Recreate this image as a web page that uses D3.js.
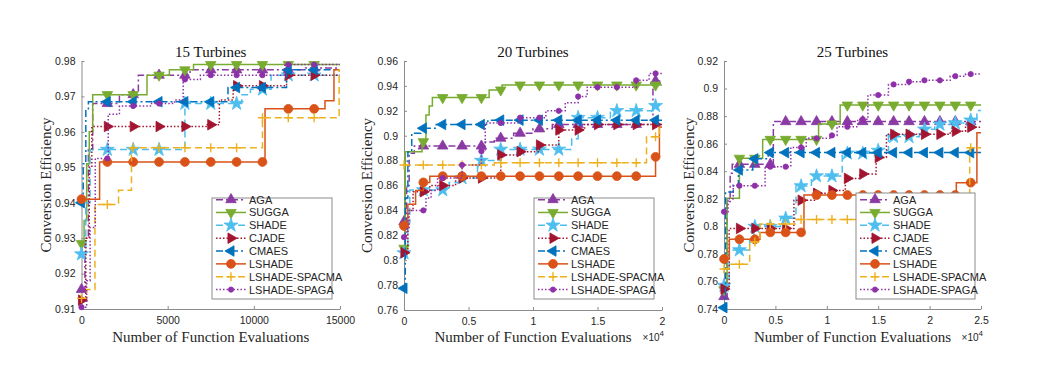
<!DOCTYPE html>
<html>
<head>
<meta charset="utf-8">
<script src="https://cdn.jsdelivr.net/npm/d3@7"></script>
<style>
body { margin: 0; background: #fff; }
</style>
</head>
<body>
<div id="chart"></div>
<script>
// ---- data: best-so-far conversion efficiency, [evaluations, value] step points ----
let names = ["AGA", "SUGGA", "SHADE", "CJADE", "CMAES", "LSHADE", "LSHADE-SPACMA", "LSHADE-SPAGA"];

// 15 turbines
let aga15 = [[0,0.9155],[200,0.93],[400,0.955],[650,0.968],[2200,0.9705],[3300,0.976],[6300,0.9775],[13000,0.978],[15000,0.978]];
let sugga15 = [[0,0.9285],[150,0.935],[300,0.951],[450,0.96],[650,0.9705],[3800,0.976],[5100,0.9775],[6500,0.979],[15000,0.979]];
let shade15 = [[0,0.9255],[250,0.94],[500,0.955],[6000,0.968],[9300,0.9705],[9800,0.972],[11000,0.976],[15000,0.9765]];
let cjade15 = [[0,0.9125],[250,0.93],[450,0.95],[600,0.9615],[7300,0.962],[8000,0.969],[8800,0.973],[11900,0.976],[15000,0.976]];
let cmaes15 = [[0,0.94],[100,0.951],[250,0.9665],[400,0.9685],[8500,0.9725],[11900,0.9775],[15000,0.9775]];
let lshade15 = [[0,0.941],[1050,0.9515],[10650,0.9665],[14130,0.9688],[14650,0.9775],[15000,0.9775]];
let spacma15 = [[0,0.913],[300,0.9155],[780,0.9395],[2150,0.9435],[2900,0.9555],[10500,0.964],[14950,0.9775],[15000,0.9775]];
let spaga15 = [[0,0.9105],[300,0.918],[500,0.933],[800,0.9525],[1550,0.965],[2200,0.9673],[4000,0.968],[5400,0.969],[5900,0.9748],[6900,0.976],[11800,0.979],[15000,0.979]];

// 20 turbines
let aga20 = [[0,0.831],[200,0.86],[400,0.886],[800,0.8917],[6200,0.895],[7000,0.898],[8500,0.902],[10000,0.9055],[11500,0.909],[19300,0.944],[20000,0.944]];
let sugga20 = [[0,0.8096],[100,0.8871],[1400,0.8952],[1700,0.9166],[1950,0.9239],[2200,0.9306],[6600,0.9367],[7600,0.9407],[20000,0.9407]];
let shade20 = [[0,0.8058],[300,0.83],[450,0.8564],[3500,0.8625],[4500,0.866],[5700,0.875],[6000,0.88],[7500,0.889],[13000,0.8975],[13500,0.9145],[16000,0.92],[19500,0.924],[20000,0.924]];
let cjade20 = [[0,0.806],[300,0.84],[700,0.855],[2000,0.86],[4000,0.866],[7500,0.8845],[9000,0.8872],[10500,0.8925],[12000,0.9046],[14000,0.909],[20000,0.909]];
let cmaes20 = [[0,0.7774],[100,0.85],[300,0.887],[600,0.902],[1300,0.906],[2500,0.909],[6500,0.9125],[20000,0.9125]];
let lshade20 = [[0,0.8275],[300,0.845],[900,0.856],[1500,0.8625],[2000,0.8675],[19300,0.8675],[19500,0.883],[19800,0.907],[20000,0.907]];
let spacma20 = [[0,0.8765],[7000,0.8783],[18800,0.8992],[19800,0.908],[20000,0.908]];
let spaga20 = [[0,0.8185],[200,0.825],[400,0.84],[1700,0.85],[2100,0.856],[2600,0.866],[4500,0.8765],[6000,0.8875],[6300,0.9102],[9000,0.9145],[11000,0.92],[12500,0.9265],[13500,0.9315],[14200,0.939],[18000,0.9445],[19000,0.95],[20000,0.95]];

// 25 turbines
let aga25 = [[0,0.749],[300,0.818],[600,0.8385],[800,0.845],[4800,0.876],[25000,0.876]];
let sugga25 = [[0,0.754],[300,0.8203],[1500,0.8494],[3760,0.8631],[9200,0.8743],[11300,0.888],[25000,0.888]];
let shade25 = [[0,0.757],[500,0.7828],[2500,0.79],[2900,0.7998],[5500,0.8058],[7000,0.8293],[8500,0.8365],[11500,0.853],[14500,0.855],[16000,0.865],[19000,0.8704],[20500,0.874],[22000,0.875],[24000,0.877],[24600,0.884],[25000,0.884]];
let cjade25 = [[0,0.7545],[500,0.7985],[6800,0.819],[8800,0.824],[10300,0.826],[11800,0.8348],[13200,0.838],[14800,0.85],[15800,0.8668],[22000,0.869],[23500,0.872],[25000,0.872]];
let cmaes25 = [[0,0.741],[150,0.825],[900,0.83],[1400,0.8409],[2800,0.849],[4300,0.8535],[25000,0.8535]];
let lshade25 = [[0,0.7763],[520,0.7906],[3500,0.7956],[7780,0.8227],[22600,0.8317],[24600,0.868],[25000,0.868]];
let spacma25 = [[0,0.769],[500,0.7725],[2500,0.7886],[3500,0.8017],[6900,0.805],[23900,0.857],[25000,0.857]];
let spaga25 = [[0,0.8106],[400,0.82],[900,0.8295],[4000,0.8433],[6500,0.8573],[8000,0.8639],[10500,0.866],[11000,0.8723],[13000,0.8777],[14000,0.8953],[16000,0.903],[18000,0.905],[19500,0.906],[22000,0.909],[23500,0.9105],[25000,0.9105]];

let yTicks15 = [0.91, 0.92, 0.93, 0.94, 0.95, 0.96, 0.97, 0.98];
let yTicks20 = [0.76, 0.78, 0.8, 0.82, 0.84, 0.86, 0.88, 0.9, 0.92, 0.94, 0.96];
let yTicks25 = [0.74, 0.76, 0.78, 0.8, 0.82, 0.84, 0.86, 0.88, 0.9, 0.92];
let xTicks15 = [0, 5000, 10000, 15000];
let xTicks20 = [0, 5000, 10000, 15000, 20000];
let xTicks25 = [0, 5000, 10000, 15000, 20000, 25000];

// ---- styles ----
let styles = [
	{color: "#8a3aa3", dash: "7,3,2,3", marker: "up"},
	{color: "#77ac30", dash: null, marker: "down"},
	{color: "#4dbeee", dash: "7,4", marker: "star"},
	{color: "#a2142f", dash: "1.5,2", marker: "right"},
	{color: "#0072bd", dash: "7,3,2,3", marker: "left"},
	{color: "#d95319", dash: null, marker: "circle"},
	{color: "#edb120", dash: "7,4", marker: "plus"},
	{color: "#8e30a8", dash: "1.5,2", marker: "dot"}
];

let panels = [
	{title: "15 Turbines", series: [aga15, sugga15, shade15, cjade15, cmaes15, lshade15, spacma15, spaga15],
	 xMax: 15000, yDomain: [0.91, 0.98], yTicks: yTicks15, xTicks: xTicks15, sci: false,
	 left: 81.5, right: 340, top: 61, bottom: 309, legend: [212, 198, 120, 101], ylabX: 51},
	{title: "20 Turbines", series: [aga20, sugga20, shade20, cjade20, cmaes20, lshade20, spacma20, spaga20],
	 xMax: 20000, yDomain: [0.76, 0.96], yTicks: yTicks20, xTicks: xTicks20, sci: true,
	 left: 404, right: 662, top: 61, bottom: 310, legend: [534, 198, 120, 101], ylabX: 372},
	{title: "25 Turbines", series: [aga25, sugga25, shade25, cjade25, cmaes25, lshade25, spacma25, spaga25],
	 xMax: 25000, yDomain: [0.74, 0.92], yTicks: yTicks25, xTicks: xTicks25, sci: true,
	 left: 724, right: 981, top: 61, bottom: 309, legend: [856, 193, 119, 106], ylabX: 694}
];

let width = 1047;
let height = 381;
let markerStep = 1500;

let svg = d3.select("#chart").append("svg")
	.attr("width", width)
	.attr("height", height)
	.style("font-family", "'Liberation Sans', Arial, sans-serif");

function markerPath(type) {
	if (type == "plus") return "M-4.5,0H4.5M0,-4.5V4.5";
	let sym = {up: d3.symbolTriangle, down: d3.symbolTriangle, right: d3.symbolTriangle, left: d3.symbolTriangle,
		star: d3.symbolStar, circle: d3.symbolCircle, dot: d3.symbolCircle}[type];
	let size = {up: 48, down: 48, right: 48, left: 48, star: 60, circle: 62, dot: 22}[type];
	return d3.symbol().type(sym).size(size)();
}
function markerRotate(type) {
	return {down: 180, right: 90, left: -90}[type] || 0;
}
function drawMarker(g, x, y, st) {
	let m = g.append("path")
		.attr("d", markerPath(st.marker))
		.attr("transform", `translate(${x},${y}) rotate(${markerRotate(st.marker)})`);
	if (st.marker == "plus") {
		m.attr("fill", "none").attr("stroke", st.color).attr("stroke-width", 1.4);
	} else {
		m.attr("fill", st.color).attr("stroke", st.color).attr("stroke-width", 0.8);
	}
}

function valueAt(data, x) {
	let i = d3.bisector(d => d[0]).right(data, x) - 1;
	return data[Math.max(0, i)][1];
}

panels.forEach(p => {
	let g = svg.append("g");
	let xScale = d3.scaleLinear().domain([0, p.xMax]).range([p.left, p.right]);
	let yScale = d3.scaleLinear().domain(p.yDomain).range([p.bottom, p.top]);

	let xAxis = d3.axisBottom(xScale)
		.tickValues(p.xTicks)
		.tickSizeInner(-3)
		.tickSizeOuter(0)
		.tickPadding(8)
		.tickFormat(d => p.sci ? d3.format("~g")(d / 10000) : d);
	let yAxis = d3.axisLeft(yScale)
		.tickValues(p.yTicks)
		.tickSizeInner(-3)
		.tickSizeOuter(0)
		.tickPadding(6)
		.tickFormat(d3.format("~g"));

	let gx = g.append("g").attr("transform", `translate(0,${p.bottom})`).call(xAxis);
	let gy = g.append("g").attr("transform", `translate(${p.left},0)`).call(yAxis);
	[gx, gy].forEach(a => {
		a.select(".domain").attr("stroke", "#8c8c8c");
		a.selectAll(".tick line").attr("stroke", "#8c8c8c");
		a.selectAll(".tick text").attr("fill", "#262626").style("font-size", "10.5px")
			.style("font-family", "'Liberation Sans', Arial, sans-serif");
	});

	let line = d3.line()
		.x(d => xScale(d[0]))
		.y(d => yScale(d[1]))
		.curve(d3.curveStepAfter);

	p.series.forEach((data, k) => {
		let st = styles[k];
		g.append("path")
			.datum(data)
			.attr("d", line)
			.attr("fill", "none")
			.attr("stroke", st.color)
			.attr("stroke-width", 1.5)
			.attr("stroke-dasharray", st.dash);
		let mg = g.append("g");
		for (let x = 0; x < p.xMax; x += markerStep) {
			drawMarker(mg, xScale(x), yScale(valueAt(data, x)), st);
		}
	});

	// title and labels
	g.append("text")
		.text(p.title)
		.attr("x", (p.left + p.right) / 2)
		.attr("y", 57)
		.attr("text-anchor", "middle")
		.style("font-family", "'Liberation Serif', 'Times New Roman', serif")
		.style("font-size", "15px")
		.attr("fill", "#111");
	g.append("text")
		.text("Number of Function Evaluations")
		.attr("x", (p.left + p.right) / 2)
		.attr("y", 342)
		.attr("text-anchor", "middle")
		.style("font-family", "'Liberation Serif', 'Times New Roman', serif")
		.style("font-size", "15px")
		.attr("fill", "#262626");
	g.append("text")
		.text("Conversion Efficiency")
		.attr("transform", `translate(${p.ylabX},${(p.top + p.bottom) / 2}) rotate(-90)`)
		.attr("text-anchor", "middle")
		.style("font-family", "'Liberation Serif', 'Times New Roman', serif")
		.style("font-size", "15px")
		.attr("fill", "#262626");
	if (p.sci) {
		let t = g.append("text")
			.attr("x", p.right + 2)
			.attr("y", 341)
			.attr("text-anchor", "end")
			.style("font-size", "10px")
			.attr("fill", "#262626");
		t.append("tspan").text("\u00d710");
		t.append("tspan").text("4").attr("dy", -5).style("font-size", "8px");
	}

	// legend
	let [lx, ly, lw, lh] = p.legend;
	let lg = g.append("g");
	lg.append("rect")
		.attr("x", lx).attr("y", ly).attr("width", lw).attr("height", lh)
		.attr("fill", "white").attr("stroke", "#8c8c8c").attr("stroke-width", 1);
	let rowH = 12.85;
	let y0 = ly + lh - 3.5 - 7 * rowH - rowH / 2 + 0.5;
	names.forEach((name, k) => {
		let st = styles[k];
		let yy = y0 + k * rowH;
		lg.append("line")
			.attr("x1", lx + 4).attr("x2", lx + 34)
			.attr("y1", yy).attr("y2", yy)
			.attr("stroke", st.color)
			.attr("stroke-width", 1.5)
			.attr("stroke-dasharray", st.dash);
		drawMarker(lg, lx + 19, yy, st);
		lg.append("text")
			.text(name)
			.attr("x", lx + 37)
			.attr("y", yy + 4)
			.style("font-size", "11px")
			.attr("fill", "#262626");
	});
});
</script>
</body>
</html>
